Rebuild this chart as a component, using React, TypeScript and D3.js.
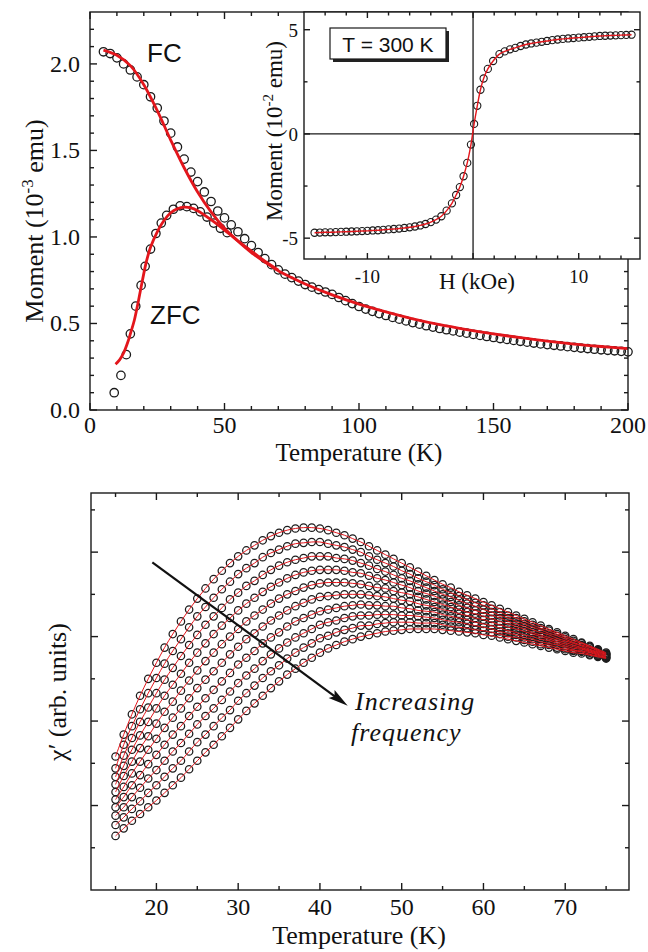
import React from "react";
import * as d3 from "d3";

const SERIF = "'Liberation Serif', 'Times New Roman', Times, serif";
const SANS = "'Liberation Sans', Arial, Helvetica, sans-serif";
const RED = "#e3161c";
const INK = "#1a1a1a";

// ---- Moment vs temperature, field cooled (10^-3 emu)
const fcTemp = [
  5, 7.5, 10, 12.5, 15, 17.5, 20, 22.5, 25, 27.5,
  30, 32.5, 35, 37.5, 40, 42.5, 45, 47.5, 50, 52.5,
  55, 57.5, 60, 62.5, 65, 67.5, 70, 72.5, 75, 77.5,
  80, 82.5, 85, 87.5, 90, 92.5, 95, 97.5, 100, 102.5,
  105, 107.5, 110, 112.5, 115, 117.5, 120, 122.5, 125, 127.5,
  130, 132.5, 135, 137.5, 140, 142.5, 145, 147.5, 150, 152.5,
  155, 157.5, 160, 162.5, 165, 167.5, 170, 172.5, 175, 177.5,
  180, 182.5, 185, 187.5, 190, 192.5, 195, 197.5, 200,
];
const fcMoment = [
  2.07, 2.06, 2.035, 2.0, 1.965, 1.925, 1.88, 1.81, 1.745, 1.67,
  1.6, 1.52, 1.45, 1.375, 1.32, 1.26, 1.205, 1.15, 1.11, 1.07,
  1.03, 0.99, 0.95, 0.91, 0.875, 0.84, 0.81, 0.785, 0.765, 0.745,
  0.725, 0.71, 0.696, 0.682, 0.668, 0.65, 0.632, 0.615, 0.598, 0.583,
  0.57, 0.557, 0.546, 0.535, 0.525, 0.515, 0.505, 0.496, 0.487, 0.479,
  0.471, 0.464, 0.457, 0.45, 0.444, 0.437, 0.431, 0.425, 0.419, 0.413,
  0.408, 0.402, 0.397, 0.392, 0.387, 0.382, 0.378, 0.374, 0.37, 0.366,
  0.362, 0.358, 0.355, 0.351, 0.348, 0.345, 0.342, 0.339, 0.336,
];
const fcFitTemp = [5, 10, 15, 20, 25, 30, 35, 40, 45, 50, 55, 60, 65, 70, 75, 80, 90, 100, 110, 120, 130, 140, 150, 160, 170, 180, 190, 200];
const fcFitMoment = [2.08, 2.05, 1.99, 1.88, 1.73, 1.56, 1.4, 1.26, 1.145, 1.05, 0.975, 0.91, 0.855, 0.805, 0.765, 0.728, 0.665, 0.612, 0.567, 0.527, 0.493, 0.465, 0.44, 0.418, 0.398, 0.381, 0.367, 0.355];

// ---- zero-field cooled
const zfcTemp = [9, 11.5, 13.5, 15, 17, 19, 20.5, 22.5, 24.5, 26.5, 28.5, 31, 33.5, 36, 38.5, 41, 43.5, 46, 48.5, 51];
const zfcMoment = [0.1, 0.2, 0.32, 0.44, 0.6, 0.72, 0.83, 0.93, 1.02, 1.08, 1.125, 1.16, 1.18, 1.175, 1.165, 1.145, 1.115, 1.08, 1.05, 1.025];
const zfcFitTemp = [9.5, 11, 12.5, 14, 15, 16.5, 18, 19.5, 21, 22.5, 25, 27.5, 30, 32.5, 35, 37.5, 40, 45, 50, 55, 60, 65, 70];
const zfcFitMoment = [0.265, 0.29, 0.33, 0.39, 0.44, 0.52, 0.63, 0.75, 0.86, 0.94, 1.03, 1.095, 1.14, 1.163, 1.172, 1.168, 1.152, 1.1, 1.04, 0.978, 0.918, 0.86, 0.808];

// ---- M(H) at 300 K (10^-2 emu vs kOe)
const loopField = [
  -15, -14.5, -14, -13.5, -13, -12.5, -12, -11.5, -11, -10.5,
  -10, -9.5, -9, -8.5, -8, -7.5, -7, -6.5, -6, -5.5,
  -5, -4.5, -4, -3.5, -3, -2.5, -2, -1.6, -1.25, -0.9, -0.55, -0.2,
  0.1, 0.4, 0.7, 1, 1.4, 1.9, 2.5,
  3, 3.5, 4, 4.5, 5, 5.5, 6, 6.5, 7, 7.5, 8, 8.5, 9, 9.5, 10,
  10.5, 11, 11.5, 12, 12.5, 13, 13.5, 14, 14.5, 15,
];
const loopMoment = [
  -4.74, -4.73, -4.72, -4.72, -4.71, -4.7, -4.69, -4.68, -4.67, -4.66,
  -4.65, -4.63, -4.62, -4.6, -4.58, -4.56, -4.54, -4.51, -4.48, -4.44,
  -4.39, -4.32, -4.23, -4.11, -3.95, -3.68, -3.33, -2.93, -2.55, -2.03, -1.39, -0.51,
  0.48, 1.35, 2.12, 2.66, 3.12, 3.5, 3.83,
  3.96, 4.06, 4.13, 4.22, 4.29, 4.34, 4.38, 4.42, 4.46, 4.5, 4.53, 4.56, 4.58, 4.6, 4.62,
  4.64, 4.66, 4.68, 4.7, 4.71, 4.72, 4.73, 4.74, 4.75, 4.76,
];

// ---- ac susceptibility chi'(T), one list per drive frequency (lowest first)
const chiTemp = [
  15, 16, 17, 18, 19, 20, 21, 22, 23, 24, 25, 26, 27, 28, 29, 30, 31, 32, 33, 34,
  35, 36, 37, 38, 39, 40, 41, 42, 43, 44, 45, 46, 47, 48, 49, 50, 51, 52, 53, 54,
  55, 56, 57, 58, 59, 60, 61, 62, 63, 64, 65, 66, 67, 68, 69, 70, 71, 72, 73, 74, 75,
];
const chiF1 = [
  1.58, 1.84, 2.08, 2.3, 2.5, 2.69, 2.87, 3.03, 3.18, 3.32,
  3.45, 3.57, 3.68, 3.78, 3.87, 3.95, 4.02, 4.08, 4.14, 4.19,
  4.23, 4.26, 4.28, 4.29, 4.29, 4.28, 4.26, 4.23, 4.2, 4.16,
  4.12, 4.07, 4.02, 3.97, 3.92, 3.87, 3.82, 3.77, 3.72, 3.67,
  3.62, 3.58, 3.53, 3.49, 3.45, 3.41, 3.37, 3.33, 3.29, 3.25,
  3.21, 3.17, 3.13, 3.09, 3.05, 3.01, 2.97, 2.93, 2.89, 2.85, 2.81,
];
const chiF2 = [
  1.44, 1.72, 1.94, 2.14, 2.33, 2.51, 2.68, 2.83, 2.97, 3.11,
  3.24, 3.35, 3.46, 3.56, 3.65, 3.74, 3.81, 3.87, 3.94, 3.99,
  4.03, 4.07, 4.1, 4.11, 4.12, 4.12, 4.1, 4.08, 4.06, 4.03,
  4.0, 3.95, 3.91, 3.87, 3.83, 3.78, 3.74, 3.69, 3.65, 3.61,
  3.56, 3.52, 3.48, 3.44, 3.4, 3.37, 3.33, 3.29, 3.25, 3.22,
  3.18, 3.14, 3.1, 3.07, 3.03, 2.99, 2.95, 2.92, 2.88, 2.84, 2.8,
];
const chiF3 = [
  1.34, 1.59, 1.8, 1.99, 2.16, 2.33, 2.49, 2.63, 2.77, 2.9,
  3.02, 3.14, 3.24, 3.34, 3.44, 3.52, 3.6, 3.66, 3.73, 3.79,
  3.84, 3.88, 3.91, 3.93, 3.95, 3.95, 3.95, 3.93, 3.92, 3.9,
  3.87, 3.84, 3.8, 3.77, 3.73, 3.69, 3.66, 3.62, 3.58, 3.54,
  3.5, 3.47, 3.43, 3.39, 3.36, 3.32, 3.29, 3.25, 3.22, 3.18,
  3.15, 3.11, 3.08, 3.04, 3.01, 2.97, 2.93, 2.9, 2.87, 2.83, 2.79,
];
const chiF4 = [
  1.25, 1.47, 1.66, 1.83, 1.99, 2.15, 2.3, 2.43, 2.56, 2.69,
  2.81, 2.92, 3.03, 3.13, 3.22, 3.31, 3.39, 3.46, 3.53, 3.59,
  3.64, 3.69, 3.73, 3.76, 3.78, 3.79, 3.79, 3.79, 3.78, 3.76,
  3.75, 3.72, 3.69, 3.67, 3.64, 3.61, 3.58, 3.54, 3.51, 3.48,
  3.44, 3.41, 3.37, 3.34, 3.31, 3.28, 3.25, 3.22, 3.18, 3.15,
  3.12, 3.08, 3.05, 3.02, 2.98, 2.95, 2.92, 2.89, 2.85, 2.82, 2.79,
];
const chiF5 = [
  1.16, 1.35, 1.52, 1.68, 1.82, 1.97, 2.11, 2.23, 2.36, 2.48,
  2.6, 2.71, 2.81, 2.91, 3.0, 3.09, 3.18, 3.25, 3.32, 3.39,
  3.45, 3.5, 3.54, 3.58, 3.61, 3.63, 3.64, 3.64, 3.64, 3.63,
  3.62, 3.6, 3.58, 3.57, 3.54, 3.52, 3.5, 3.47, 3.44, 3.41,
  3.38, 3.35, 3.32, 3.29, 3.27, 3.24, 3.21, 3.18, 3.15, 3.12,
  3.09, 3.05, 3.02, 2.99, 2.96, 2.93, 2.9, 2.87, 2.84, 2.81, 2.78,
];
const chiF6 = [
  1.07, 1.22, 1.38, 1.52, 1.66, 1.79, 1.92, 2.04, 2.15, 2.27,
  2.39, 2.49, 2.59, 2.69, 2.79, 2.88, 2.97, 3.04, 3.12, 3.19,
  3.25, 3.31, 3.36, 3.4, 3.44, 3.47, 3.48, 3.49, 3.5, 3.5,
  3.5, 3.49, 3.48, 3.47, 3.45, 3.43, 3.42, 3.39, 3.37, 3.35,
  3.32, 3.3, 3.27, 3.25, 3.22, 3.2, 3.17, 3.14, 3.11, 3.09,
  3.06, 3.03, 3.0, 2.97, 2.94, 2.91, 2.88, 2.86, 2.83, 2.8, 2.77,
];
const chiF7 = [
  0.98, 1.1, 1.24, 1.36, 1.49, 1.6, 1.72, 1.84, 1.94, 2.06,
  2.17, 2.27, 2.37, 2.47, 2.57, 2.67, 2.75, 2.83, 2.92, 2.99,
  3.05, 3.12, 3.18, 3.22, 3.26, 3.3, 3.32, 3.34, 3.36, 3.37,
  3.38, 3.37, 3.37, 3.36, 3.36, 3.34, 3.33, 3.31, 3.3, 3.29,
  3.26, 3.24, 3.22, 3.2, 3.17, 3.15, 3.13, 3.1, 3.07, 3.05,
  3.02, 3.0, 2.97, 2.95, 2.92, 2.89, 2.86, 2.85, 2.82, 2.79, 2.76,
];
const chiF8 = [
  0.88, 0.98, 1.1, 1.21, 1.32, 1.42, 1.53, 1.64, 1.74, 1.85,
  1.96, 2.06, 2.15, 2.25, 2.35, 2.45, 2.54, 2.62, 2.71, 2.79,
  2.86, 2.93, 2.99, 3.04, 3.09, 3.14, 3.17, 3.19, 3.22, 3.24,
  3.25, 3.25, 3.26, 3.26, 3.26, 3.25, 3.25, 3.24, 3.23, 3.22,
  3.2, 3.18, 3.17, 3.15, 3.13, 3.11, 3.09, 3.06, 3.04, 3.02,
  2.99, 2.97, 2.94, 2.92, 2.9, 2.87, 2.84, 2.83, 2.81, 2.78, 2.75,
];
const chiF9 = [
  0.77, 0.86, 0.96, 1.05, 1.15, 1.24, 1.34, 1.44, 1.53, 1.64,
  1.75, 1.84, 1.94, 2.04, 2.13, 2.24, 2.33, 2.42, 2.51, 2.59,
  2.66, 2.74, 2.81, 2.87, 2.92, 2.98, 3.01, 3.05, 3.08, 3.1,
  3.13, 3.13, 3.15, 3.16, 3.17, 3.17, 3.17, 3.16, 3.16, 3.16,
  3.14, 3.12, 3.11, 3.1, 3.08, 3.07, 3.05, 3.03, 3.0, 2.99,
  2.96, 2.94, 2.91, 2.9, 2.87, 2.85, 2.83, 2.82, 2.79, 2.77, 2.75,
];
const chiF10 = [
  0.64, 0.73, 0.82, 0.9, 0.98, 1.06, 1.15, 1.24, 1.33, 1.43,
  1.53, 1.63, 1.72, 1.82, 1.92, 2.02, 2.12, 2.21, 2.3, 2.39,
  2.47, 2.55, 2.62, 2.69, 2.75, 2.81, 2.86, 2.9, 2.94, 2.97,
  3.0, 3.02, 3.04, 3.06, 3.07, 3.08, 3.09, 3.09, 3.09, 3.09,
  3.08, 3.07, 3.06, 3.05, 3.04, 3.02, 3.01, 2.99, 2.97, 2.95,
  2.93, 2.91, 2.89, 2.87, 2.85, 2.83, 2.81, 2.8, 2.78, 2.76, 2.74,
];
const chiSeries = [chiF1, chiF2, chiF3, chiF4, chiF5, chiF6, chiF7, chiF8, chiF9, chiF10];

// ---- tick labels
const momentXTicks = [0, 50, 100, 150, 200];
const momentYTicks = [0, 0.5, 1, 1.5, 2];
const loopXTicks = [-10, 10];
const loopYTicks = [-5, 0, 5];
const chiXTicks = [20, 30, 40, 50, 60, 70];

// arrow annotation across the frequency family (temperature, chi')
const arrowFrom = [19.5, 3.88];
const arrowTo = [43.4, 2.18];

type Lin = d3.ScaleLinear<number, number>;

function Frame(props: {
  xs: Lin; ys: Lin; xMajor: number[]; xMinor: number[]; yMajor: number[]; yMinor: number[];
  majorLen?: number; minorLen?: number; sw?: number;
}) {
  const { xs, ys, xMajor, xMinor, yMajor, yMinor, majorLen = 7, minorLen = 4, sw = 1.4 } = props;
  const [xa, xb] = xs.range();
  const [ya, yb] = ys.range();
  const segs: number[][] = [];
  const addX = (v: number, len: number) => {
    const p = xs(v);
    segs.push([p, ya, p, ya - len], [p, yb, p, yb + len]);
  };
  const addY = (v: number, len: number) => {
    const p = ys(v);
    segs.push([xa, p, xa + len, p], [xb, p, xb - len, p]);
  };
  xMajor.forEach((v) => addX(v, majorLen));
  xMinor.forEach((v) => addX(v, minorLen));
  yMajor.forEach((v) => addY(v, majorLen));
  yMinor.forEach((v) => addY(v, minorLen));
  return (
    <g stroke={INK} strokeWidth={sw} fill="none">
      {segs.map((s, i) => (
        <line key={i} x1={s[0]} y1={s[1]} x2={s[2]} y2={s[3]} />
      ))}
      <rect x={xa} y={yb} width={xb - xa} height={ya - yb} />
    </g>
  );
}

function pairs(xs: number[], ys: number[]): [number, number][] {
  return xs.map((v, i) => [v, ys[i]] as [number, number]);
}

export default function App() {
  // upper panel: moment vs temperature
  const mx = d3.scaleLinear().domain([0, 200]).range([90, 628]);
  const my = d3.scaleLinear().domain([0, 2.3]).range([410, 12]);
  // inset: M(H)
  const hx = d3.scaleLinear().domain([-16, 15.8]).range([304, 640]);
  const hy = d3.scaleLinear().domain([-6, 5.85]).range([259, 12]);
  // lower panel: chi'(T)
  const cx = d3.scaleLinear().domain([12, 77.8]).range([91, 629]);
  const cy = d3.scaleLinear().domain([0, 4.7]).range([890, 493]);

  const mLine = d3
    .line<[number, number]>()
    .x((d) => mx(d[0]))
    .y((d) => my(d[1]))
    .curve(d3.curveCatmullRom.alpha(0.5));
  const hLine = d3
    .line<[number, number]>()
    .x((d) => hx(d[0]))
    .y((d) => hy(d[1]))
    .curve(d3.curveCatmullRom.alpha(0.5));
  const cLine = d3
    .line<[number, number]>()
    .x((d) => cx(d[0]))
    .y((d) => cy(d[1]))
    .curve(d3.curveCatmullRom.alpha(0.5));

  const mxMinor = d3.range(10, 200, 10).filter((v) => v % 50 !== 0);
  const myMinor = d3.range(1, 23).filter((i) => i % 5 !== 0).map((i) => i / 10);
  const hxMinor = d3.range(-14, 15, 2).filter((v) => v % 10 !== 0);
  const hxMajor = [-10, 0, 10];
  const hyMinor = [-2.5, 2.5];
  const cxMinor = d3.range(15, 78, 10);
  const cyMajor = [1, 2, 3, 4];
  const cyMinor = [0.5, 1.5, 2.5, 3.5, 4.5];

  // arrow geometry in pixels
  const ax0 = cx(arrowFrom[0]);
  const ay0 = cy(arrowFrom[1]);
  const ax1 = cx(arrowTo[0]);
  const ay1 = cy(arrowTo[1]);
  const ang = Math.atan2(ay1 - ay0, ax1 - ax0);
  const headLen = 20;
  const headHalf = 5;
  const bx = ax1 - headLen * Math.cos(ang);
  const by = ay1 - headLen * Math.sin(ang);
  const nx = -Math.sin(ang);
  const ny = Math.cos(ang);
  const head = `${ax1},${ay1} ${bx + nx * headHalf},${by + ny * headHalf} ${bx + (ax1 - bx) * 0.18},${by + (ay1 - by) * 0.18} ${bx - nx * headHalf},${by - ny * headHalf}`;

  return (
    <svg
      width={648}
      height={952}
      viewBox="0 0 648 952"
      style={{ position: "absolute", left: 0, top: 0, background: "#fff" }}
      fontFamily={SERIF}
    >
      <rect x={0} y={0} width={648} height={952} fill="#fff" />

      {/* ===== upper panel ===== */}
      <g>
        {pairs(fcTemp, fcMoment).map((d, i) => (
          <circle key={`fc${i}`} cx={mx(d[0])} cy={my(d[1])} r={4.2} fill="none" stroke={INK} strokeWidth={1.3} />
        ))}
        {pairs(zfcTemp, zfcMoment).map((d, i) => (
          <circle key={`zfc${i}`} cx={mx(d[0])} cy={my(d[1])} r={4.2} fill="none" stroke={INK} strokeWidth={1.3} />
        ))}
        <path d={mLine(pairs(fcFitTemp, fcFitMoment)) || ""} fill="none" stroke={RED} strokeWidth={2.8} />
        <path d={mLine(pairs(zfcFitTemp, zfcFitMoment)) || ""} fill="none" stroke={RED} strokeWidth={2.8} />
      </g>
      <Frame xs={mx} ys={my} xMajor={momentXTicks} xMinor={mxMinor} yMajor={momentYTicks} yMinor={myMinor} />
      <g fontSize={24} fill="#111">
        {momentXTicks.map((v) => (
          <text key={`mxt${v}`} x={mx(v)} y={433} textAnchor="middle">{v}</text>
        ))}
        {momentYTicks.map((v) => (
          <text key={`myt${v}`} x={80} y={my(v) + 8} textAnchor="end">{v.toFixed(1)}</text>
        ))}
      </g>
      <text x={359} y={461} fontSize={25} textAnchor="middle" fill="#111">Temperature (K)</text>
      <text transform="translate(43,221) rotate(-90)" fontSize={26} textAnchor="middle" fill="#111">
        Moment (10<tspan dy={-10} fontSize={17}>-3</tspan><tspan dy={10}> emu)</tspan>
      </text>
      <text x={147} y={62} fontFamily={SANS} fontSize={26} fill="#111">FC</text>
      <text x={150} y={324} fontFamily={SANS} fontSize={26} fill="#111">ZFC</text>

      {/* ===== inset: M(H) at 300 K ===== */}
      <rect x={304} y={12} width={336} height={247} fill="#fff" />
      <line x1={hx(0)} x2={hx(0)} y1={12} y2={259} stroke={INK} strokeWidth={1.3} />
      <line x1={304} x2={640} y1={hy(0)} y2={hy(0)} stroke={INK} strokeWidth={1.3} />
      {pairs(loopField, loopMoment).map((d, i) => (
        <circle key={`lp${i}`} cx={hx(d[0])} cy={hy(d[1])} r={3.6} fill="none" stroke={INK} strokeWidth={1.1} />
      ))}
      <path d={hLine(pairs(loopField, loopMoment)) || ""} fill="none" stroke={RED} strokeWidth={1.4} />
      <Frame xs={hx} ys={hy} xMajor={hxMajor} xMinor={hxMinor} yMajor={loopYTicks} yMinor={hyMinor} majorLen={6} minorLen={3.5} />
      <g fontSize={19} fill="#111">
        {loopYTicks.map((v) => (
          <text key={`hyt${v}`} x={298} y={hy(v) + 7} textAnchor="end">{v}</text>
        ))}
        {loopXTicks.map((v) => (
          <text key={`hxt${v}`} x={hx(v)} y={283} textAnchor="middle">{v}</text>
        ))}
      </g>
      <text x={477} y={289} fontSize={23} textAnchor="middle" fill="#111">H (kOe)</text>
      <text transform="translate(282,131) rotate(-90)" fontSize={23} textAnchor="middle" fill="#111">
        Moment (10<tspan dy={-9} fontSize={15}>-2</tspan><tspan dy={9}> emu)</tspan>
      </text>
      <rect x={333} y={31} width={116} height={31} fill="#222" />
      <rect x={330} y={28} width={116} height={31} fill="#fff" stroke={INK} strokeWidth={1.2} />
      <text x={388} y={52} fontFamily={SANS} fontSize={21} textAnchor="middle" fill="#111">T = 300 K</text>

      {/* ===== lower panel: chi'(T) at several frequencies ===== */}
      <g>
        {chiSeries.map((s, k) =>
          pairs(chiTemp, s).map((d, i) => (
            <circle key={`c${k}-${i}`} cx={cx(d[0])} cy={cy(d[1])} r={3.7} fill="none" stroke="#1c1c1c" strokeWidth={1.25} />
          ))
        )}
        {chiSeries.map((s, k) => (
          <path key={`cl${k}`} d={cLine(pairs(chiTemp, s)) || ""} fill="none" stroke={RED} strokeWidth={1} />
        ))}
      </g>
      <Frame xs={cx} ys={cy} xMajor={chiXTicks} xMinor={cxMinor} yMajor={cyMajor} yMinor={cyMinor} />
      <g fontSize={24} fill="#111">
        {chiXTicks.map((v) => (
          <text key={`cxt${v}`} x={cx(v)} y={915} textAnchor="middle">{v}</text>
        ))}
      </g>
      <text x={359} y={944} fontSize={26} textAnchor="middle" fill="#111">Temperature (K)</text>
      <text transform="translate(66,692) rotate(-90)" fontSize={26} textAnchor="middle" fill="#111">χ′ (arb. units)</text>

      <line x1={ax0} y1={ay0} x2={bx + (ax1 - bx) * 0.3} y2={by + (ay1 - by) * 0.3} stroke="#111" strokeWidth={2.2} />
      <polygon points={head} fill="#111" />
      <g fontStyle="italic" fontSize={26} fill="#111" letterSpacing={1}>
        <text x={355} y={710}>Increasing</text>
        <text x={351} y={741}>frequency</text>
      </g>
    </svg>
  );
}
